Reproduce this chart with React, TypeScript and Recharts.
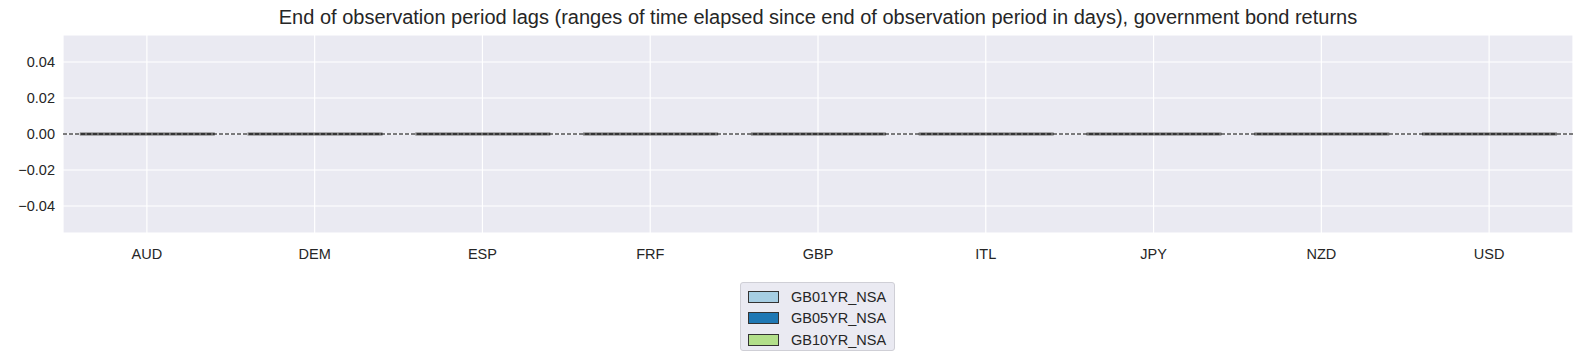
import React from "react";
import {
  ComposedChart, Bar, XAxis, YAxis, CartesianGrid, ReferenceLine,
} from "recharts";

const categories = ["AUD", "DEM", "ESP", "FRF", "GBP", "ITL", "JPY", "NZD", "USD"];
const seriesNames = ["GB01YR_NSA", "GB05YR_NSA", "GB10YR_NSA"];
const seriesColors = ["#a6cee3", "#1f78b4", "#b2df8a"];
// all lags are zero, so every box collapses onto the zero line
const gb01 = [0, 0, 0, 0, 0, 0, 0, 0, 0];
const gb05 = [0, 0, 0, 0, 0, 0, 0, 0, 0];
const gb10 = [0, 0, 0, 0, 0, 0, 0, 0, 0];
const yTicks = [-0.04, -0.02, 0, 0.02, 0.04];

const data = categories.map((c, i) => ({
  cat: c,
  s0: gb01[i],
  s1: gb05[i],
  s2: gb10[i],
}));

const FONT = "'Liberation Sans', Arial, sans-serif";

const FlatBox = (props: any) => {
  const { x, y, width, height } = props;
  const yy = y + (height || 0);
  return (
    <g>
      <rect x={x} y={yy - 1.5} width={width} height={3} fill="#555555" opacity={0.85} />
    </g>
  );
};

const fmt = (v: number) => (v < 0 ? "\u2212" + Math.abs(v).toFixed(2) : v.toFixed(2));

export default function App() {
  return (
    <div style={{ position: "fixed", left: 0, top: 0, width: 1584, height: 362, background: "#fff", fontFamily: FONT }}>
      <div style={{ position: "absolute", left: 63, width: 1510, top: 6, textAlign: "center", fontSize: 20, color: "#262626" }}>
        End of observation period lags (ranges of time elapsed since end of observation period in days), government bond returns
      </div>
      <ComposedChart
        width={1584}
        height={362}
        data={data}
        margin={{ top: 35, right: 11, left: 8, bottom: 99 }}
        barCategoryGap="10%"
        barGap={0}
        style={{ fontFamily: FONT }}
      >
        <CartesianGrid fill="#eaeaf2" stroke="#ffffff" strokeWidth={1.2} />
        <XAxis
          dataKey="cat"
          axisLine={false}
          tickLine={false}
          tickSize={0}
          tickMargin={16}
          height={30}
          tick={{ fill: "#262626", fontSize: 14.5 }}
        />
        <YAxis
          type="number"
          domain={[-0.055, 0.055]}
          ticks={yTicks}
          tickFormatter={fmt}
          axisLine={false}
          tickLine={false}
          tickSize={0}
          tickMargin={8}
          width={55}
          allowDataOverflow
          tick={{ fill: "#262626", fontSize: 14.5 }}
        />
        <ReferenceLine y={0} stroke="#000" strokeDasharray="4 2" strokeWidth={1} />
        <Bar dataKey="s0" name={seriesNames[0]} fill={seriesColors[0]} shape={FlatBox} isAnimationActive={false} />
        <Bar dataKey="s1" name={seriesNames[1]} fill={seriesColors[1]} shape={FlatBox} isAnimationActive={false} />
        <Bar dataKey="s2" name={seriesNames[2]} fill={seriesColors[2]} shape={FlatBox} isAnimationActive={false} />
      </ComposedChart>
      <div
        style={{
          position: "absolute", left: 740, top: 282, width: 155, height: 69, boxSizing: "border-box",
          background: "#eaeaf2", border: "1px solid #cfcfd6", borderRadius: 3, padding: "3px 0 0 7px",
        }}
      >
        {seriesNames.map((n, i) => (
          <div key={n} style={{ display: "flex", alignItems: "center", height: 21.5, fontSize: 14.5, color: "#262626" }}>
            <span style={{ display: "inline-block", width: 31, height: 12, background: seriesColors[i], border: "1px solid #333", marginRight: 12, boxSizing: "border-box" }} />
            {n}
          </div>
        ))}
      </div>
    </div>
  );
}
